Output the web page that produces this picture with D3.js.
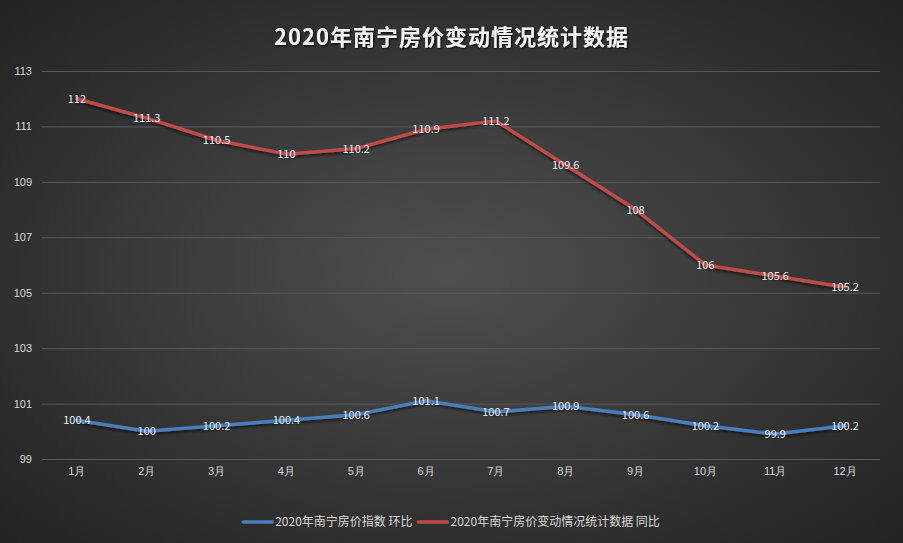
<!DOCTYPE html>
<html><head><meta charset="utf-8">
<script src="https://cdn.jsdelivr.net/npm/d3@7/dist/d3.min.js"></script>
<style>
html,body{margin:0;padding:0;background:#333;}
svg{display:block;font-family:"Microsoft YaHei","Noto Sans CJK SC","Noto Sans",sans-serif;}
</style></head><body>
<svg id="c" width="903" height="543"></svg>
<script>
const categories = ["1月","2月","3月","4月","5月","6月","7月","8月","9月","10月","11月","12月"];
const seriesHuanbi = [100.4,100,100.2,100.4,100.6,101.1,100.7,100.9,100.6,100.2,99.9,100.2];
const seriesTongbi = [112,111.3,110.5,110,110.2,110.9,111.2,109.6,108,106,105.6,105.2];
const yTicks = [99,101,103,105,107,109,111,113];
const seriesNames = ["2020年南宁房价指数 环比","2020年南宁房价变动情况统计数据 同比"];
const titleText = "2020年南宁房价变动情况统计数据";

(function(){
const W=903,H=543;
const svg=d3.select("#c");
const defs=svg.append("defs");
const rg=defs.append("radialGradient").attr("id","bg").attr("cx","50%").attr("cy","50%").attr("r","75%");
rg.append("stop").attr("offset","0%").attr("stop-color","#4f4f4f");
rg.append("stop").attr("offset","100%").attr("stop-color","#1f1f1f");
const f=defs.append("filter").attr("id","sh").attr("x","-10%").attr("y","-10%").attr("width","120%").attr("height","130%");
f.append("feDropShadow").attr("dx",0).attr("dy",2).attr("stdDeviation",1.5).attr("flood-color","#000").attr("flood-opacity",0.6);
const ft=defs.append("filter").attr("id","tsh");
ft.append("feDropShadow").attr("dx",1).attr("dy",1).attr("stdDeviation",0.8).attr("flood-color","#000").attr("flood-opacity",0.9);

svg.append("rect").attr("width",W).attr("height",H).attr("fill","url(#bg)");

const pl=42,pr=880,pt=71,pb=459;
const x=d3.scaleBand().domain(categories).range([pl,pr]);
const y=d3.scaleLinear().domain([99,113]).range([pb,pt]);

svg.append("text").attr("x",W/2).attr("y",45).attr("text-anchor","middle")
 .attr("fill","#f2f2f2").attr("font-size",22).attr("font-weight","bold").attr("letter-spacing",1).attr("filter","url(#tsh)").text(titleText);

const gy=svg.append("g").attr("transform",`translate(${pl},0)`)
 .call(d3.axisLeft(y).tickValues(yTicks).tickSize(-(pr-pl)).tickPadding(10));
gy.select(".domain").remove();
gy.selectAll(".tick line").attr("stroke","#5a5a5a").attr("stroke-width",1);
gy.selectAll(".tick text").attr("fill","#d9d9d9").attr("font-size",11).attr("font-family","inherit");

const gx=svg.append("g").attr("transform",`translate(0,${pb})`)
 .call(d3.axisBottom(x).tickSize(0).tickPadding(8));
gx.select(".domain").remove();
gx.selectAll(".tick text").attr("fill","#d9d9d9").attr("font-size",11).attr("font-family","inherit");

const line=d3.line().x((d,i)=>x(categories[i])+x.bandwidth()/2).y(d=>y(d));
const colors=["#4a7ebb","#be4b48"];
[seriesHuanbi,seriesTongbi].forEach((s,k)=>{
  svg.append("path").datum(s).attr("d",line).attr("fill","none").attr("stroke",colors[k])
   .attr("stroke-width",3.5).attr("stroke-linejoin","round").attr("stroke-linecap","round").attr("filter","url(#sh)");
});
[seriesHuanbi,seriesTongbi].forEach((s,k)=>{
  svg.append("g").selectAll("text").data(s).join("text")
   .attr("x",(d,i)=>x(categories[i])+x.bandwidth()/2).attr("y",d=>y(d)+4)
   .attr("text-anchor","middle").attr("fill","#e8eef8").attr("font-size",11).text(d=>d);
});

const lg=svg.append("g");
const items=[];
let lx=0;
const fs=12;
const tmp=lg.append("text").attr("font-size",fs);
seriesNames.forEach((n,i)=>{
  tmp.text(n);
  const w=tmp.node().getComputedTextLength();
  items.push({n,w,x:lx});
  lx+=32+w+6;
});
tmp.remove();
const total=lx-6;
const sx=W/2-total/2;
items.forEach((it,i)=>{
  lg.append("line").attr("x1",sx+it.x).attr("x2",sx+it.x+29).attr("y1",522).attr("y2",522)
    .attr("stroke",colors[i]).attr("stroke-width",3.5).attr("stroke-linecap","round");
  lg.append("text").attr("x",sx+it.x+32).attr("y",526).attr("fill","#d9d9d9").attr("font-size",fs).text(it.n);
});
})();
</script></body></html>
